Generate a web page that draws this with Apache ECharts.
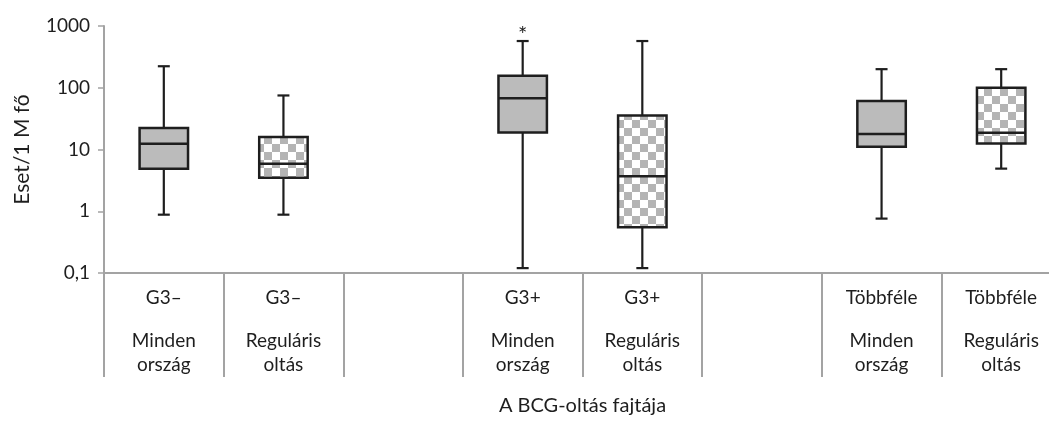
<!DOCTYPE html>
<html>
<head>
<meta charset="utf-8">
<script src="https://cdn.jsdelivr.net/npm/echarts@6/dist/echarts.min.js"></script>
<style>
  html, body { margin: 0; padding: 0; overflow: hidden; background: #ffffff; }
  #chart { width: 1070px; height: 421px; }
</style>
</head>
<body>
<div id="chart"></div>
<script>
// Vaccine type and country scope for each slot on the category axis (blank slots separate the groups)
const groups = ['G3–', 'G3–', '', 'G3+', 'G3+', '', 'Többféle', 'Többféle'];
const scopes = ['Minden ország', 'Reguláris oltás', '', 'Minden ország', 'Reguláris oltás', '', 'Minden ország', 'Reguláris oltás'];

// Box plot statistics, cases per million (log scale)
const whiskerLow  = [0.88, 0.88, null, 0.12, 0.12, null, 0.76, 4.9];
const quartile1   = [4.9,  3.5,  null, 18.9, 0.55, null, 11.1, 12.5];
const medians     = [12.4, 5.9,  null, 67.5, 3.7,  null, 17.8, 18.6];
const quartile3   = [22.2, 15.9, null, 156,  35.4, null, 61,   100];
const whiskerHigh = [223,  75,   null, 571,  571,  null, 200,  200];

// Outlying observations: [category index, value]
const outliers = [[3, 850]];

// Y axis tick labels, one per decade from 0,1 to 1000
const yTickLabels = ['0,1', '1', '10', '100', '1000'];

const FONT = 'Lato, "Open Sans", sans-serif';
const INK = '#1e1e1e';
const AXIS_GREY = '#a3a3a3';

// Checkerboard fill used for the "Reguláris oltás" boxes
function makeChecker() {
  const c = document.createElement('canvas');
  const s = 8;
  c.width = 2 * s; c.height = 2 * s;
  const g = c.getContext('2d');
  g.fillStyle = '#ffffff';
  g.fillRect(0, 0, 2 * s, 2 * s);
  g.fillStyle = '#b4b4b4';
  g.fillRect(0, 0, s, s);
  g.fillRect(s, s, s, s);
  return c;
}
const checker = makeChecker();

const boxData = [];
for (let i = 0; i < groups.length; i++) {
  if (medians[i] == null) continue;
  const patterned = scopes[i].indexOf('Reguláris') === 0 ? 1 : 0;
  boxData.push([i, whiskerLow[i], quartile1[i], medians[i], quartile3[i], whiskerHigh[i], patterned]);
}

function renderBox(params, api) {
  const x = api.value(0);
  const lo = api.coord([x, api.value(1)]);
  const q1 = api.coord([x, api.value(2)]);
  const md = api.coord([x, api.value(3)]);
  const q3 = api.coord([x, api.value(4)]);
  const hi = api.coord([x, api.value(5)]);
  const band = api.size([1, 1])[0];
  const bw = band * 0.405;
  const cw = band * 0.1;
  const cx = md[0];
  const line = { stroke: INK, lineWidth: 2.2 };
  return {
    type: 'group',
    children: [
      { type: 'line', shape: { x1: cx, y1: hi[1], x2: cx, y2: q3[1] }, style: line },
      { type: 'line', shape: { x1: cx, y1: q1[1], x2: cx, y2: lo[1] }, style: line },
      { type: 'line', shape: { x1: cx - cw / 2, y1: hi[1], x2: cx + cw / 2, y2: hi[1] }, style: line },
      { type: 'line', shape: { x1: cx - cw / 2, y1: lo[1], x2: cx + cw / 2, y2: lo[1] }, style: line },
      {
        type: 'rect',
        shape: { x: cx - bw / 2, y: q3[1], width: bw, height: q1[1] - q3[1] },
        style: {
          fill: api.value(6) === 1 ? { image: checker, repeat: 'repeat' } : '#bbbbbb',
          stroke: INK, lineWidth: 2.5
        }
      },
      { type: 'line', shape: { x1: cx - bw / 2, y1: md[1], x2: cx + bw / 2, y2: md[1] }, style: { stroke: INK, lineWidth: 2.5 } }
    ]
  };
}

function renderOutlier(params, api) {
  const p = api.coord([api.value(0), api.value(1)]);
  return {
    type: 'text', x: p[0], y: p[1] + 5,
    style: { text: '*', fontSize: 22, fontFamily: FONT, fill: INK, align: 'center', verticalAlign: 'middle' }
  };
}

const chart = echarts.init(document.getElementById('chart'), null, { renderer: 'canvas', width: 1070, height: 421 });

chart.setOption({
  animation: false,
  backgroundColor: '#ffffff',
  grid: { left: 104, top: 26, width: 957, height: 248, containLabel: false },
  xAxis: {
    type: 'category',
    data: groups.map((g, i) => i),
    boundaryGap: true,
    name: 'A BCG-oltás fajtája',
    nameLocation: 'middle',
    nameGap: 123,
    nameTextStyle: { fontFamily: FONT, fontSize: 20, color: INK, verticalAlign: 'top' },
    axisLine: { show: true, lineStyle: { color: AXIS_GREY, width: 2 } },
    axisTick: { show: true, length: 104, interval: 0, lineStyle: { color: AXIS_GREY, width: 2 } },
    axisLabel: {
      interval: 0,
      margin: 12,
      fontFamily: FONT,
      color: INK,
      formatter: function (v) {
        const i = Number(v);
        if (!groups[i]) return '';
        const parts = scopes[i].split(' ');
        return '{g|' + groups[i] + '}\n{gap| }\n{s|' + parts[0] + '}\n{s|' + parts[1] + '}';
      },
      rich: {
        g: { fontFamily: FONT, fontSize: 19, lineHeight: 25, color: INK },
        gap: { fontFamily: FONT, fontSize: 10, lineHeight: 19 },
        s: { fontFamily: FONT, fontSize: 19, lineHeight: 24, color: INK }
      }
    },
    splitLine: { show: false }
  },
  yAxis: {
    type: 'log',
    logBase: 10,
    min: 0.1,
    max: 1000,
    name: 'Eset/1 M fő',
    nameLocation: 'middle',
    nameGap: 71,
    nameRotate: 90,
    nameTextStyle: { fontFamily: FONT, fontSize: 21, color: INK },
    axisLine: { show: true, lineStyle: { color: AXIS_GREY, width: 2 } },
    axisTick: { show: true, length: 6, lineStyle: { color: AXIS_GREY, width: 1.5 } },
    axisLabel: {
      margin: 14,
      fontFamily: FONT,
      fontSize: 19,
      color: INK,
      formatter: function (v) {
        const k = Math.round(Math.log10(v)) + 1;
        return yTickLabels[k] !== undefined ? yTickLabels[k] : '';
      }
    },
    splitLine: { show: false }
  },
  series: [
    { type: 'custom', name: 'box', renderItem: renderBox, data: boxData, encode: { x: 0, y: [1, 2, 3, 4, 5] }, clip: false },
    { type: 'custom', name: 'outliers', renderItem: renderOutlier, data: outliers, encode: { x: 0, y: 1 }, clip: false }
  ]
});
</script>
</body>
</html>
